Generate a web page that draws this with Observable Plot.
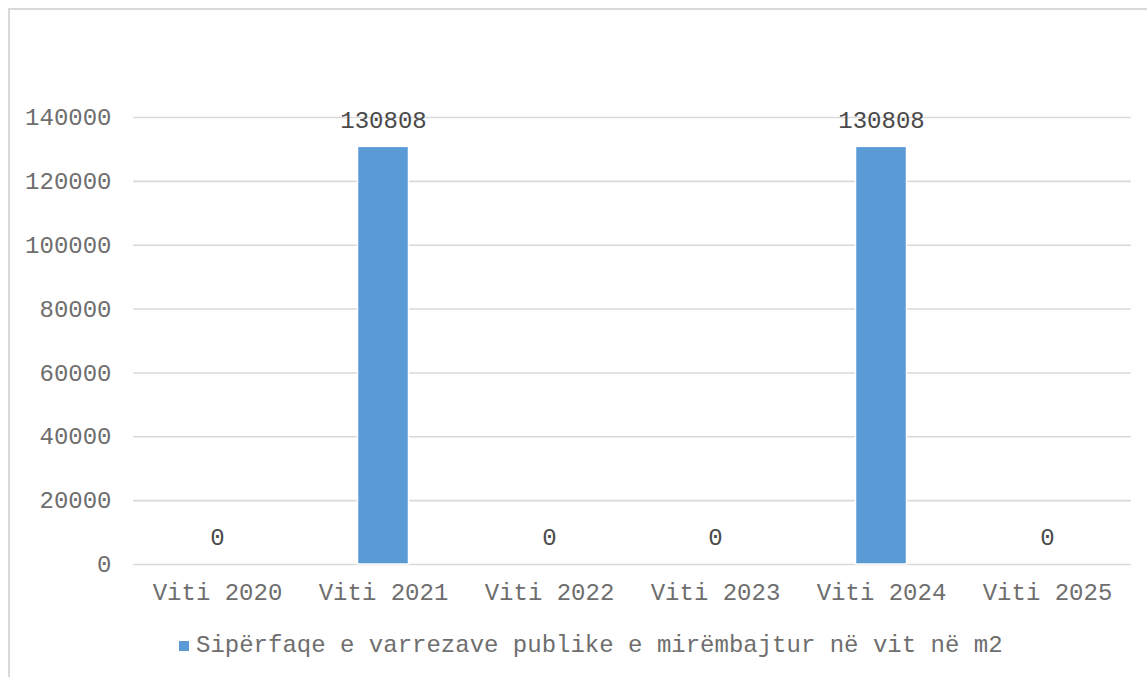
<!DOCTYPE html>
<html>
<head>
<meta charset="utf-8">
<script src="https://cdn.jsdelivr.net/npm/d3@7"></script>
<script src="https://cdn.jsdelivr.net/npm/@observablehq/plot@0.6"></script>
<style>
  html, body { margin: 0; padding: 0; background: #fff; overflow: hidden; width: 1147px; height: 677px; }
  #frame { position: absolute; left: 8px; top: 8px; width: 3000px; height: 3000px;
           border-left: 2px solid #d9d9d9; border-top: 2px solid #d9d9d9; box-sizing: border-box; }
  #wrap { position: absolute; left: 0; top: 0; width: 1147px; }
  #legend { display: flex; align-items: center; gap: 7px; margin-top: 13px; height: 26px; padding-left: 179px;
            font-family: 'Liberation Mono', monospace; font-size: 24px; color: #6e6e6e; line-height: 26px; }
  #legend .sw { width: 10px; height: 10px; background: #5B9BD5; flex: none; }
</style>
</head>
<body>
<div id="frame"></div>
<div id="wrap">
  <div id="chart"></div>
  <div id="legend"><span class="sw"></span><span id="legtext"></span></div>
</div>
<script>
const years = ["Viti 2020", "Viti 2021", "Viti 2022", "Viti 2023", "Viti 2024", "Viti 2025"];
const values = [0, 130808, 0, 0, 130808, 0];
const yTicks = [0, 20000, 40000, 60000, 80000, 100000, 120000, 140000];
const seriesName = "Sipërfaqe e varrezave publike e mirëmbajtur në vit në m2";

const data = years.map((year, i) => ({year, value: values[i]}));

const chart = Plot.plot({
  width: 1147,
  height: 620,
  marginLeft: 133,
  marginRight: 16,
  marginTop: 117,
  marginBottom: 56,
  style: {fontFamily: "'Liberation Mono', monospace", fontSize: "24px", color: "#6e6e6e", background: "transparent"},
  x: {domain: years, padding: 0, label: null},
  y: {domain: [0, 140000], ticks: yTicks, label: null},
  marks: [
    Plot.ruleY(yTicks, {stroke: "#d9d9d9", strokeWidth: 1.6}),
    Plot.barY(data, {x: "year", y: "value", fill: "#5B9BD5", stroke: "white", strokeWidth: 1.5, insetLeft: 57.5, insetRight: 57.5}),
    Plot.text(data, {x: "year", y: "value", text: d => String(d.value), dy: -27, lineAnchor: "middle", fill: "#4a4a4a", fontSize: 24}),
    Plot.axisX({tickSize: 0, tickPadding: 18, label: null, fill: "#6e6e6e", fontSize: 24}),
    Plot.axisY({ticks: yTicks, tickSize: 0, tickPadding: 22, tickFormat: d => String(d), label: null, fill: "#6e6e6e", fontSize: 24})
  ]
});
document.getElementById("chart").appendChild(chart);
document.getElementById("legtext").textContent = seriesName;
</script>
</body>
</html>
